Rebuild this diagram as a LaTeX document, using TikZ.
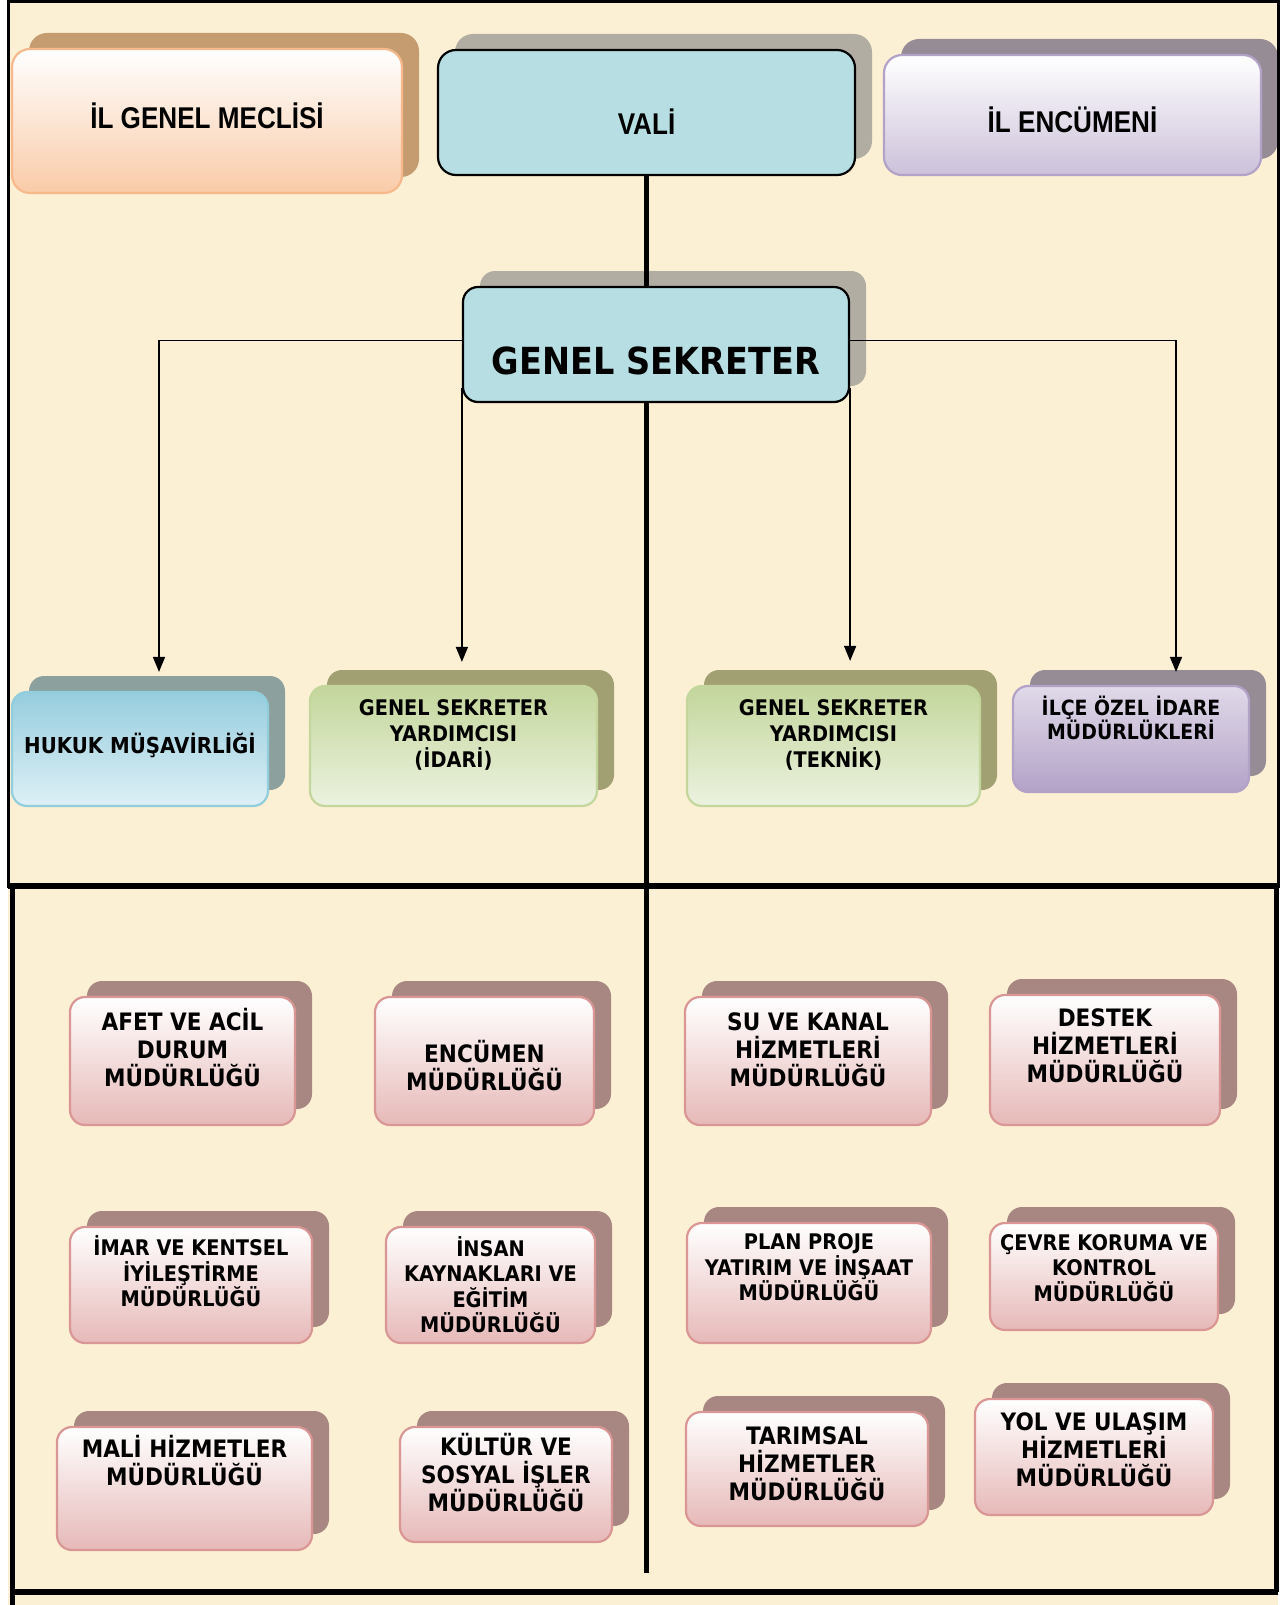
\documentclass[tikz,border=0pt]{standalone}
\usepackage{fontspec}
\newfontfamily\boxfont[FakeStretch=0.9]{DejaVu Sans}
\newfontfamily\headfont[FakeStretch=0.87]{Liberation Sans}
\usepackage{tikz}
\usetikzlibrary{arrows.meta, positioning, shadows}

\definecolor{parchment}{RGB}{252,240,212}
\definecolor{valifill}{RGB}{183,223,227}
\definecolor{peach}{RGB}{249,203,168}
\definecolor{peachline}{RGB}{247,185,140}
\definecolor{peachshadow}{RGB}{196,156,112}
\definecolor{grayshadow}{RGB}{178,173,163}
\definecolor{lilac}{RGB}{204,193,218}
\definecolor{lilacline}{RGB}{179,162,199}
\definecolor{lilacshadow}{RGB}{150,140,150}
\definecolor{skyblue}{RGB}{150,205,222}
\definecolor{skylight}{RGB}{222,240,246}
\definecolor{skyline}{RGB}{146,205,220}
\definecolor{tealshadow}{RGB}{140,160,158}
\definecolor{leaf}{RGB}{195,214,155}
\definecolor{leaflight}{RGB}{236,242,224}
\definecolor{oliveshadow}{RGB}{160,160,115}
\definecolor{rose}{RGB}{230,185,184}
\definecolor{roseline}{RGB}{217,150,148}
\definecolor{roseshadow}{RGB}{168,135,130}

\newcommand{\topstrut}[1]{\rule{0pt}{#1}}
\newcommand{\botstrut}[1]{\rule[-#1]{0pt}{#1}}

\begin{document}
\begin{tikzpicture}[x=1pt, y=-1pt,
    shadowed/.style={general shadow={fill=#1, shadow xshift=17pt, shadow yshift=16pt}},
    unit/.style={rounded corners=15pt, line width=2.2pt, align=center, inner sep=0pt},
    head/.style={unit, rounded corners=18pt, font=\headfont\bfseries\fontsize{30pt}{34pt}\selectfont},
    dept/.style={unit, shadowed=roseshadow, draw=roseline, top color=white, bottom color=rose},
    bigtext/.style={font=\boxfont\bfseries\fontsize{24pt}{28pt}\selectfont},
    smalltext/.style={font=\boxfont\bfseries\fontsize{21.5pt}{25.5pt}\selectfont},
    link/.style={line width=1.6pt, -{Triangle[width=12pt,length=15pt]}},
    spine/.style={line width=5pt}]
    \useasboundingbox (0,0) rectangle (1287,1605);
    \fill[white] (0,0) rectangle (1287,1605);
    \fill[parchment] (8,2) rectangle (1278,1605);

    % top row
    \node[head, shadowed=peachshadow, draw=peachline, top color=white, bottom color=peach, minimum width=390pt, minimum height=144pt] (meclis) at (207,121) {\topstrut{30pt}İL GENEL MECLİSİ\botstrut{14.5pt}};
    \node[head, shadowed=grayshadow, draw=black, fill=valifill, minimum width=417pt, minimum height=125pt] (vali) at (646.5,112.5) {\topstrut{44.5pt}VALİ};
    \node[head, shadowed=lilacshadow, draw=lilacline, top color=white, bottom color=lilac, minimum width=377pt, minimum height=120pt] (encumeni) at (1072.5,115) {\topstrut{34.5pt}İL ENCÜMENİ};

    \node[unit, shadowed=grayshadow, draw=black, fill=valifill, minimum width=386pt, minimum height=115pt, font=\boxfont\bfseries\fontsize{37.3pt}{42pt}\selectfont] (gs) at (656,344.5) {\topstrut{60.2pt}GENEL SEKRETER};

    % second row
    \node[unit, shadowed=tealshadow, draw=skyline, top color=skyblue, bottom color=skylight, minimum width=256pt, minimum height=114pt, font=\boxfont\bfseries\fontsize{22pt}{26pt}\selectfont] (hukuk) at (140,749) {\topstrut{22pt}HUKUK MÜŞAVİRLİĞİ\botstrut{14pt}};
    \node[unit, shadowed=oliveshadow, draw=leaf, top color=leaf, bottom color=leaflight, minimum width=287pt, minimum height=120pt, font=\boxfont\bfseries\fontsize{21.5pt}{26pt}\selectfont] (idari) at (453.5,746) {\topstrut{21.5pt}GENEL SEKRETER\\YARDIMCISI\\(İDARİ)\botstrut{29.8pt}};
    \node[unit, shadowed=oliveshadow, draw=leaf, top color=leaf, bottom color=leaflight, minimum width=293pt, minimum height=120pt, font=\boxfont\bfseries\fontsize{21.5pt}{26pt}\selectfont] (teknik) at (833.5,746) {\topstrut{21.5pt}GENEL SEKRETER\\YARDIMCISI\\(TEKNİK)\botstrut{29.8pt}};
    \node[unit, shadowed=lilacshadow, draw=lilacline, top color=lilac!60!white, bottom color=lilacline, minimum width=236pt, minimum height=106pt, font=\boxfont\bfseries\fontsize{21pt}{24pt}\selectfont] (ilce) at (1131,739) {\topstrut{21pt}İLÇE ÖZEL İDARE\\MÜDÜRLÜKLERİ\botstrut{44.7pt}};

    % frame
    \draw[line width=3pt] (8,2) rectangle (1278,886);
    \draw[line width=6pt] (8,886) -- (1278,886);
    \draw[line width=5pt] (12,886) -- (12,1605);
    \draw[line width=5pt] (1276,886) -- (1276,1592);
    \draw[line width=6pt] (10,1592) -- (1278,1592);

    % left directorates
    \node[dept, bigtext, minimum width=225pt, minimum height=128pt] (afet) at (182.5,1061) {\topstrut{24pt}AFET VE ACİL\\DURUM\\MÜDÜRLÜĞÜ\botstrut{28.5pt}};
    \node[dept, bigtext, minimum width=219pt, minimum height=128pt] (encumen) at (484.5,1061) {\topstrut{30.5pt}ENCÜMEN\\MÜDÜRLÜĞÜ};
    \node[dept, smalltext, minimum width=242pt, minimum height=116pt] (imar) at (191,1285) {\topstrut{21.5pt}İMAR VE KENTSEL\\İYİLEŞTİRME\\MÜDÜRLÜĞÜ\botstrut{28.8pt}};
    \node[dept, smalltext, minimum width=209pt, minimum height=116pt] (insan) at (490.5,1285) {\topstrut{21.5pt}İNSAN\\KAYNAKLARI VE\\EĞİTİM\\MÜDÜRLÜĞÜ\botstrut{2.8pt}};
    \node[dept, bigtext, minimum width=255pt, minimum height=123pt] (mali) at (184.5,1488.5) {\topstrut{24pt}MALİ HİZMETLER\\MÜDÜRLÜĞÜ\botstrut{58.5pt}};
    \node[dept, bigtext, minimum width=212pt, minimum height=115pt] (kultur) at (506,1484.5) {\topstrut{24pt}KÜLTÜR VE\\SOSYAL İŞLER\\MÜDÜRLÜĞÜ\botstrut{25.5pt}};

    % right directorates
    \node[dept, bigtext, minimum width=246pt, minimum height=128pt] (su) at (808,1061) {\topstrut{24pt}SU VE KANAL\\HİZMETLERİ\\MÜDÜRLÜĞÜ\botstrut{28.5pt}};
    \node[dept, bigtext, minimum width=230pt, minimum height=130pt] (destek) at (1105,1060) {\topstrut{24pt}DESTEK\\HİZMETLERİ\\MÜDÜRLÜĞÜ\botstrut{34.5pt}};
    \node[dept, smalltext, minimum width=244pt, minimum height=120pt] (plan) at (809,1283) {\topstrut{21.5pt}PLAN PROJE\\YATIRIM VE İNŞAAT\\MÜDÜRLÜĞÜ\botstrut{36.8pt}};
    \node[dept, smalltext, minimum width=228pt, minimum height=107pt] (cevre) at (1104,1276.5) {\topstrut{21.5pt}ÇEVRE KORUMA VE\\KONTROL\\MÜDÜRLÜĞÜ\botstrut{22.8pt}};
    \node[dept, bigtext, minimum width=242pt, minimum height=114pt] (tarim) at (807,1469) {\topstrut{24pt}TARIMSAL\\HİZMETLER\\MÜDÜRLÜĞÜ\botstrut{17.5pt}};
    \node[dept, bigtext, minimum width=238pt, minimum height=116pt] (yol) at (1094,1457) {\topstrut{24pt}YOL VE ULAŞIM\\HİZMETLERİ\\MÜDÜRLÜĞÜ\botstrut{20.5pt}};

    % connectors
    \coordinate (spineend) at (646.5,1573);
    \draw[spine] (vali.south) -- (vali.south |- gs.north);
    \draw[spine] (vali.south |- gs.south) -- (spineend);
    \draw[link, shorten >=19pt] ([yshift=4pt]gs.west) -| ([xshift=19pt]hukuk.north);
    \draw[link, shorten >=23pt] ([yshift=15pt]gs.south west) -- (gs.south west |- idari.north);
    \draw[link, shorten >=24pt] ([yshift=15pt]gs.south east) -- (gs.south east |- teknik.north);
    \draw[link, shorten >=13pt] ([yshift=4pt]gs.east) -| ([xshift=45pt]ilce.north);
\end{tikzpicture}
\end{document}
